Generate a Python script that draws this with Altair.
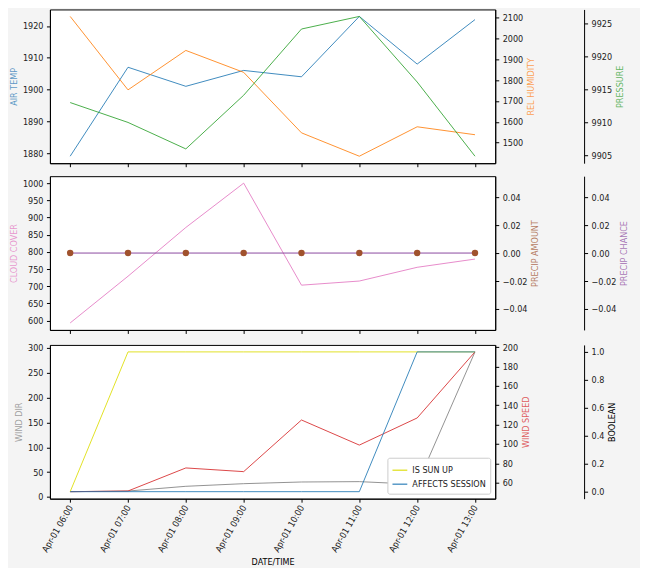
import altair as alt
import pandas as pd

# ---------------- data ----------------
times = ["2024-04-01T06:00:00", "2024-04-01T07:00:00", "2024-04-01T08:00:00",
         "2024-04-01T09:00:00", "2024-04-01T10:00:00", "2024-04-01T11:00:00",
         "2024-04-01T12:00:00", "2024-04-01T13:00:00"]
air_temp = [1879, 1907, 1901, 1906, 1904, 1923, 1908, 1922]
rel_humidity = [2105, 1753, 1942, 1837, 1547, 1435, 1576, 1538]
pressure = [9913.0, 9910.0, 9906.0, 9914.1, 9924.1, 9926.0, 9916.1, 9904.9]
cloud_cover = [593, 729, 871, 1000, 703, 715, 755, 779]
precip_amount = [0.0, 0.0, 0.0, 0.0, 0.0, 0.0, 0.0, 0.0]
precip_chance = [0.0, 0.0, 0.0, 0.0, 0.0, 0.0, 0.0, 0.0]
wind_dir = [10.7, 12, 21.5, 26.8, 30.2, 30.9, 25.5, 292]
wind_speed = [50.7, 51.4, 75.2, 71.4, 124.7, 98.8, 126.8, 195]
is_sun_up = [0, 1, 1, 1, 1, 1, 1, 1]
affects_session = [0, 0, 0, 0, 0, 0, 1, 1]

df = pd.DataFrame({
    "time": times,
    "air_temp": air_temp,
    "rel_humidity": rel_humidity,
    "pressure": pressure,
    "cloud_cover": cloud_cover,
    "precip_amount": precip_amount,
    "precip_chance": precip_chance,
    "wind_dir": wind_dir,
    "wind_speed": wind_speed,
    "IS SUN UP": is_sun_up,
    "AFFECTS SESSION": affects_session,
})

FONT = "DejaVu Sans Condensed, DejaVu Sans"
FS = 9
W, H = 446, 154
OFF3 = 89

BLUE, ORANGE, GREEN = "#1f77b4", "#ff7f0e", "#2ca02c"
PINK, BROWN, PURPLE = "#e377c2", "#a0522d", "#8c4aa0"
GRAY, RED, YELLOW = "#7f7f7f", "#d62728", "#dddd00"

x_domain = [alt.DateTime(year=2024, month=4, date=1, hours=5, minutes=39),
            alt.DateTime(year=2024, month=4, date=1, hours=13, minutes=21)]
x_ticks = [alt.DateTime(year=2024, month=4, date=1, hours=h) for h in range(6, 14)]


def xenc(show):
    if show:
        ax = alt.Axis(values=x_ticks, format="%b-%d %H:%M", labelAngle=300,
                      labelAlign="right", labelBaseline="middle", title="DATE/TIME",
                      titleColor="black", titlePadding=4)
    else:
        ax = alt.Axis(values=x_ticks, labels=False, title=None)
    return alt.X("time:T", scale=alt.Scale(domain=x_domain), axis=ax)


def yaxis(title, color, orient, offset, values, fmt="d", title_op=0.75):
    kw = dict(title=title, titleColor=color, titleOpacity=title_op, orient=orient,
              offset=offset, values=values, format=fmt)
    if orient == "right":
        kw["titleAngle"] = 270
        kw["titleBaseline"] = "top"
    return alt.Axis(**kw)


def auto_scale():
    return alt.Scale(zero=False, nice=False, padding=7)


def line(field, color, axis, show_x, scale=None, op=0.85):
    return alt.Chart(df).mark_line(color=color, strokeWidth=1, opacity=op).encode(
        x=xenc(show_x),
        y=alt.Y(f"{field}:Q", scale=scale or auto_scale(), axis=axis),
    )


# ---------------- top panel ----------------
top = alt.layer(
    line("air_temp", BLUE, yaxis("AIR TEMP", BLUE, "left", 0, [1880, 1890, 1900, 1910, 1920]), False),
    line("rel_humidity", ORANGE, yaxis("REL HUMIDITY", ORANGE, "right", 0,
                                       [1500, 1600, 1700, 1800, 1900, 2000, 2100]), False),
    line("pressure", GREEN, yaxis("PRESSURE", GREEN, "right", OFF3,
                                  [9905, 9910, 9915, 9920, 9925]), False),
).resolve_scale(y="independent").properties(width=W, height=H)

# ---------------- middle panel ----------------
precip_dom = [-0.055, 0.055]
precip_ticks = [-0.04, -0.02, 0.0, 0.02, 0.04]
mid = alt.layer(
    line("cloud_cover", PINK, yaxis("CLOUD COVER", PINK, "left", 0,
                                    [600, 650, 700, 750, 800, 850, 900, 950, 1000]), False),
    line("precip_chance", PURPLE, yaxis("PRECIP CHANCE", PURPLE, "right", OFF3, precip_ticks, ".2f"),
         False, scale=alt.Scale(domain=precip_dom, nice=False), op=1),
    alt.Chart(df).mark_point(filled=True, color=BROWN, size=42, opacity=1).encode(
        x=xenc(False),
        y=alt.Y("precip_amount:Q", scale=alt.Scale(domain=precip_dom, nice=False),
                axis=yaxis("PRECIP AMOUNT", BROWN, "right", 0, precip_ticks, ".2f")),
    ),
).resolve_scale(y="independent").properties(width=W, height=H)

# ---------------- bottom panel ----------------
bool_layer = alt.Chart(df).transform_fold(
    ["IS SUN UP", "AFFECTS SESSION"], as_=["series", "value"]
).mark_line(strokeWidth=1, opacity=0.85).encode(
    x=xenc(True),
    y=alt.Y("value:Q", scale=auto_scale(),
            axis=yaxis("BOOLEAN", "black", "right", OFF3, [0, 0.2, 0.4, 0.6, 0.8, 1.0], ".1f", 1)),
    color=alt.Color("series:N",
                    scale=alt.Scale(domain=["IS SUN UP", "AFFECTS SESSION"], range=[YELLOW, BLUE]),
                    sort=["IS SUN UP", "AFFECTS SESSION"],
                    legend=alt.Legend(title=None, orient="bottom-right", offset=5,
                                      fillColor="white", strokeColor="#cccccc", padding=4,
                                      cornerRadius=2, symbolType="stroke", symbolSize=220,
                                      symbolStrokeWidth=1.3, labelFontSize=FS, labelFont=FONT,
                                      labelColor="#222", rowPadding=0)),
    order=alt.Order("series:N", sort="descending"),
)

bot = alt.layer(
    line("wind_dir", GRAY, yaxis("WIND DIR", GRAY, "left", 0, [0, 50, 100, 150, 200, 250, 300]), True),
    line("wind_speed", RED, yaxis("WIND SPEED", RED, "right", 0,
                                  [60, 80, 100, 120, 140, 160, 180, 200]), True),
    bool_layer,
).resolve_scale(y="independent", color="independent").properties(width=W, height=H)

chart = alt.vconcat(top, mid, bot, spacing=7).properties(
    padding={"left": 0, "top": 0, "right": 10, "bottom": 0}
).configure(
    background="#f4f4f4", font=FONT
).configure_view(
    stroke="black", strokeWidth=1, fill="white"
).configure_axis(
    grid=False, tickSize=3.5, tickColor="black", domainColor="black", domainWidth=1,
    labelColor="#222", labelFontSize=FS, titleFontSize=FS, titleFontWeight="normal",
    labelPadding=3.5, titlePadding=4, labelFont=FONT, titleFont=FONT,
)

chart.save("out.html", embed_options={"renderer": "svg", "actions": False})
